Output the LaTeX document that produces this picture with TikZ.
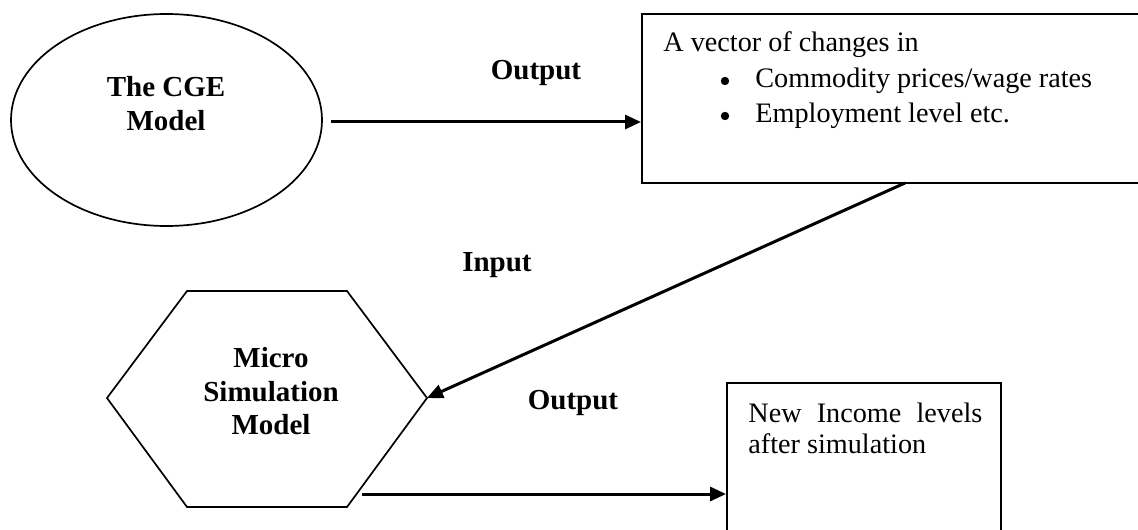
\documentclass[tikz,border=0pt]{standalone}
\usepackage{fontspec}
\setmainfont{Liberation Serif}
\usetikzlibrary{arrows.meta,shapes.geometric}
\begin{document}
\begin{tikzpicture}[x=0.5pt,y=-0.5pt,
  conn/.style={line width=1.5pt,-{Triangle[length=8pt,width=7pt]}},
  frame/.style={draw,line width=1pt,rectangle,inner sep=0pt},
  outline/.style={line width=0.85pt},
  lbl/.style={font=\fontsize{14.5}{16}\selectfont\bfseries,anchor=base,inner sep=0pt},
  txt/.style={font=\fontsize{14.1}{16}\selectfont,anchor=base west,inner sep=0pt},
  dot/.style={circle,fill,inner sep=0pt,minimum size=4.2pt}]
\useasboundingbox (0,0) rectangle (1138,529);
\clip (0,0) rectangle (1138,529);

% CGE model
\node[draw,outline,ellipse,minimum width=155.5pt,minimum height=106pt,inner sep=0pt] (cge) at (166.5,120) {};
\node[lbl] (cgeA) at (166,97) {The CGE};
\node[lbl] (cgeB) at (166,131) {Model};

% Micro simulation model
\draw[outline] (187,291) coordinate (h1) -- (347,291) coordinate (h2)
  -- (427,398) coordinate (hexR) -- (347,507) coordinate (h4)
  -- (187,507) coordinate (h5) -- (107,398) coordinate (h6) -- cycle;
\node[lbl] (msA) at (271,367) {Micro};
\node[lbl] (msB) at (271,401) {Simulation};
\node[lbl] (msC) at (271,434) {Model};

% Vector of changes
\node[frame,minimum width=259pt,minimum height=84.5pt] (vec) at (901,98.5) {};
\node[txt] (v0) at (663,52) {A vector of changes in};
\node[dot] (b1) at (725,81) {};
\node[txt] (v1) at (755,88) {Commodity prices/wage rates};
\node[dot] (b2) at (725,116) {};
\node[txt] (v2) at (755,123) {Employment level etc.};

% New income levels
\node[frame,minimum width=137pt,minimum height=88.5pt] (inc) at (864,471.5) {};
\node[txt] (n1) at (748,422) {\makebox[117pt][s]{New Income levels}};
\node[txt] (n2) at (748,453) {after simulation};

% Connector labels
\node[lbl] (lo1) at (536,80) {Output};
\node[lbl] (lin) at (497,271) {Input};
\node[lbl] (lo2) at (573,409) {Output};

% Connectors
\coordinate (o1s) at (331,122);
\draw[conn] (o1s) -- (o1s -| vec.west);
\coordinate (ins) at (905,183);
\draw[conn] (ins) -- (hexR);
\coordinate (o2s) at (362,494);
\draw[conn] (o2s) -- (o2s -| inc.west);
\end{tikzpicture}
\end{document}
